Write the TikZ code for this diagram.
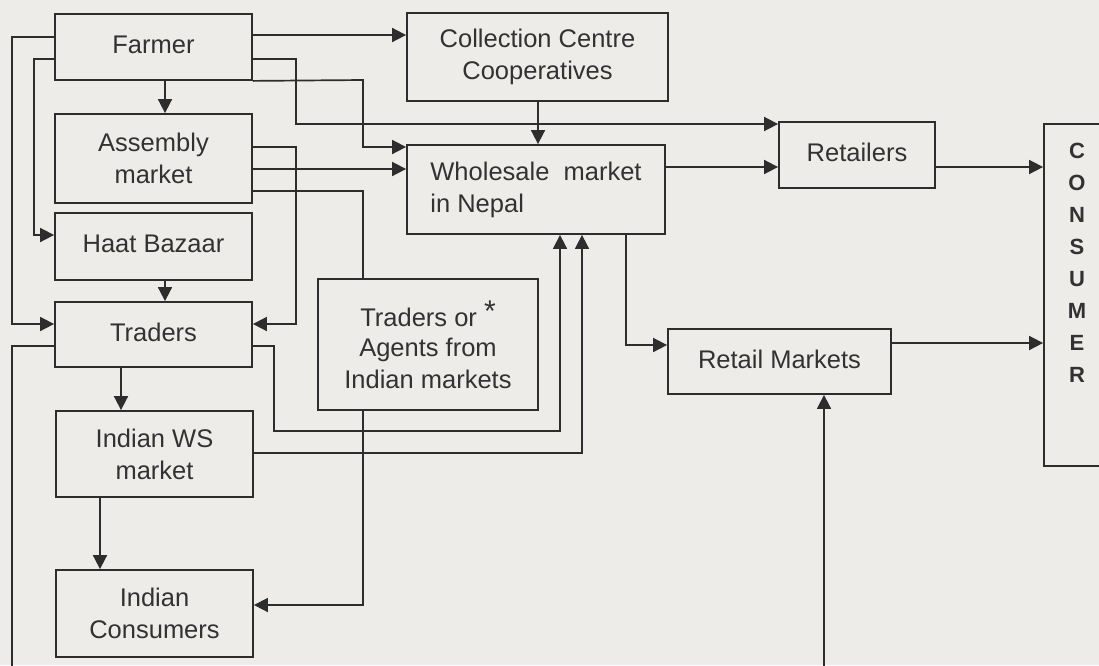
\documentclass[tikz,border=0pt]{standalone}
\usepackage{fontspec}
\setmainfont{Liberation Sans}
\usetikzlibrary{arrows.meta}
\definecolor{paper}{RGB}{237,236,233}
\definecolor{ink}{RGB}{45,45,45}
\definecolor{txt}{RGB}{50,50,50}
\newcommand{\up}[1]{\raisebox{5pt}{#1}}
\begin{document}
\begin{tikzpicture}[x=1pt,y=-1pt,
  box/.style={draw=ink,line width=1.8pt,fill=paper,rectangle,inner sep=0pt,text=txt,
    font=\fontsize{25.5}{32}\selectfont,align=center},
  arr/.style={draw=ink,line width=1.7pt,-{Triangle[length=14pt,width=14pt]}},
  ln/.style={draw=ink,line width=1.7pt}]
\useasboundingbox (0,0) rectangle (1099,665);
\fill[paper] (0,0) rectangle (1099,665);
\clip (0,0) rectangle (1099,665);

% boxes
\node[box,minimum width=197pt,minimum height=66pt] (farmer) at (153.5,47) {\up{Farmer}};
\node[box,minimum width=197pt,minimum height=89pt] (assembly) at (153.5,158.5) {Assembly\\market};
\node[box,minimum width=197pt,minimum height=67pt] (haat) at (153.5,246.5) {\up{Haat Bazaar}};
\node[box,minimum width=197pt,minimum height=65pt] (traders) at (153.5,334.5) {\up{Traders}};
\node[box,minimum width=197pt,minimum height=86pt] (indws) at (154.5,454) {Indian WS\\market};
\node[box,minimum width=197pt,minimum height=87pt] (indcons) at (154.5,613.5) {Indian\\Consumers};
\node[box,minimum width=261pt,minimum height=88pt] (coll) at (537.5,57) {Collection Centre\\Cooperatives};
\node[box,minimum width=258pt,minimum height=89pt,align=left] (whole) at (536,189.5) {Wholesale~~market\\in Nepal};
\node[box,minimum width=220pt,minimum height=131pt] (agents) at (428,344.5)
  {Traders or \raisebox{5pt}{\fontsize{30}{30}\selectfont *}\\[-2pt]Agents from\\Indian markets};
\node[box,minimum width=223pt,minimum height=65pt] (retail) at (779.5,361.5) {\up{Retail Markets}};
\node[box,minimum width=156pt,minimum height=66pt] (retailers) at (857,155) {\up{Retailers}};
\node[box,minimum width=90pt,minimum height=342pt] (consumer) at (1089,295) {};
\node[text=txt,font=\fontsize{22}{32}\selectfont\bfseries,align=center,inner sep=0pt] (constxt) at (1077,263)
  {C\\O\\N\\S\\U\\M\\E\\R};

% free ends
\coordinate (tout) at (12,670);
\coordinate (rmin) at (824,670);

% connectors
\draw[arr] (farmer.east |- 0,35) -- (coll.west |- 0,35);
\draw[arr] (farmer.east |- 0,59) -- (296,59) |- (retailers.west |- 0,124);
\draw[arr] (farmer.south east) -- (363,80) |- (whole.west |- 0,147);
\draw[arr] (farmer.south -| 165,0) -- (assembly.north -| 165,0);
\draw[arr] (farmer.west |- 0,37) -- (12,37) |- (traders.west |- 0,324);
\draw[arr] (farmer.west |- 0,59) -- (34,59) |- (haat.west |- 0,235);
\draw[arr] (assembly.east |- 0,147) -- (296,147) |- (traders.east |- 0,324);
\draw[arr] (assembly.east |- 0,169) -- (whole.west |- 0,169);
\draw[ln] (assembly.east |- 0,191) -| (agents.north -| 363,0);
\draw[arr] (agents.south -| 363,0) |- (indcons.east |- 0,605);
\draw[arr] (haat.south -| 165,0) -- (traders.north -| 165,0);
\draw[arr] (traders.south -| 121,0) -- (indws.north -| 121,0);
\draw[arr] (traders.east |- 0,346) -- (274,346) |- (560,431) -- (whole.south -| 560,0);
\draw[arr] (indws.east |- 0,453) -- (582,453) -- (whole.south -| 582,0);
\draw[ln] (traders.west |- 0,346) -- (12,346) -- (tout);
\draw[arr] (indws.south -| 100,0) -- (indcons.north -| 100,0);
\draw[arr] (coll.south -| 538,0) -- (whole.north -| 538,0);
\draw[arr] (whole.east |- 0,167) -- (retailers.west |- 0,167);
\draw[arr] (whole.south -| 626,0) |- (retail.west |- 0,345);
\draw[arr] (retailers.east |- 0,167) -- (consumer.west |- 0,167);
\draw[arr] (retail.east |- 0,343) -- (consumer.west |- 0,343);
\draw[arr] (rmin) -- (retail.south -| rmin);
\end{tikzpicture}
\end{document}
